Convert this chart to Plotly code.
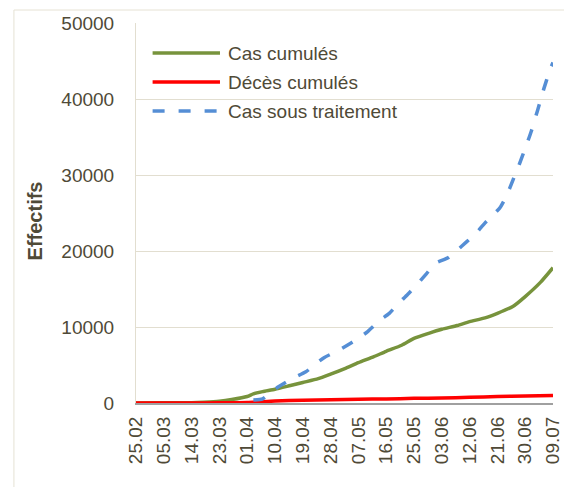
import pandas as pd
import plotly.graph_objects as go

START = "2020-02-25"

# Cas cumulés (day offset from 25.02, value)
cas_days = [0, 9, 18, 22, 27, 31, 36, 38, 41, 45, 50, 54, 59, 63, 68, 72, 77, 81,
            86, 90, 95, 99, 104, 108, 113, 117, 122, 126, 131, 135]
cas_vals = [1, 17, 40, 100, 230, 450, 850, 1200, 1500, 1800, 2300, 2700, 3200, 3800,
            4600, 5300, 6100, 6800, 7600, 8500, 9200, 9700, 10200, 10700, 11200,
            11800, 12700, 14000, 15900, 17800]

# Décès cumulés
dec_days = [0, 9, 18, 27, 36, 45, 54, 63, 72, 81, 90, 99, 108, 117, 126, 135]
dec_vals = [0, 0, 4, 17, 58, 256, 375, 437, 502, 542, 609, 673, 741, 857, 912, 1000]

# Cas sous traitement
trt_days = [38, 41, 44, 46, 48, 51, 55, 58, 61, 65, 68, 72, 75, 79, 82, 85, 88, 91,
            94, 97, 101, 104, 107, 110, 113, 116, 118, 120, 122, 124, 126, 128, 130,
            132, 134, 135]
trt_vals = [400, 550, 1500, 2100, 2600, 3300, 4100, 5100, 6000, 6800, 7500, 8500,
            9400, 10900, 11800, 13100, 14300, 15600, 17000, 18400, 19100, 20100,
            21200, 22300, 23700, 24900, 25800, 27300, 29300, 31300, 33500, 35800,
            38500, 41300, 43800, 44800]

legend_names = ["Cas cumulés", "Décès cumulés", "Cas sous traitement"]
y_ticks = [0, 10000, 20000, 30000, 40000, 50000]
x_tick_days = list(range(0, 136, 9))

start = pd.Timestamp(START)
def to_dates(days):
    return [start + pd.Timedelta(days=d) for d in days]

GREEN = "#77933C"
RED = "#FF0000"
BLUE = "#558ED5"
TXT = "#4f4a37"
GRID = "#e2ded0"
FONT = "Liberation Sans"

fig = go.Figure()
fig.add_trace(go.Scatter(x=to_dates(cas_days), y=cas_vals, mode="lines",
                         line=dict(color=GREEN, width=3.5, shape="spline", smoothing=0.6),
                         name=legend_names[0], showlegend=False))
fig.add_trace(go.Scatter(x=to_dates(dec_days), y=dec_vals, mode="lines",
                         line=dict(color=RED, width=3.5, shape="spline", smoothing=0.6),
                         name=legend_names[1], showlegend=False))
fig.add_trace(go.Scatter(x=to_dates(trt_days), y=trt_vals, mode="lines",
                         line=dict(color=BLUE, width=3.5, dash="12px,14px", shape="spline", smoothing=0.6),
                         name=legend_names[2], showlegend=False))

# page geometry (page has an 8px body margin)
OFF = 8
W, H = 572 - 2 * OFF, 495 - 2 * OFF
L, R, B, T = 136, 563, 403, 23  # plot area in page pixels
def px(x):
    return (x - L) / (R - L)
def py(y):
    return (B - y) / (B - T)

colors = [GREEN, RED, BLUE]
dashes = ["solid", "solid", "12px,14px"]
rows = [53, 82, 111]
for name, c, d, yy in zip(legend_names, colors, dashes, rows):
    fig.add_shape(type="line", xref="paper", yref="paper",
                  x0=px(153), x1=px(222), y0=py(yy), y1=py(yy),
                  line=dict(color=c, width=3.5, dash=d))
    fig.add_annotation(xref="paper", yref="paper", x=px(228), y=py(yy),
                       xanchor="left", yanchor="middle", text=name, showarrow=False,
                       font=dict(family=FONT, size=19, color=TXT))

# outer frame
fig.add_shape(type="line", xref="paper", yref="paper",
              x0=px(11), x1=px(11), y0=py(10), y1=py(500),
              line=dict(color="#e6e2d4", width=1))
fig.add_shape(type="line", xref="paper", yref="paper",
              x0=px(11), x1=px(580), y0=py(10), y1=py(10),
              line=dict(color="#e6e2d4", width=1))

fig.add_annotation(xref="paper", yref="paper", x=px(33), y=py(221),
                   xanchor="center", yanchor="middle",
                   text="<b>Effectifs</b>", textangle=-90, showarrow=False,
                   font=dict(family=FONT, size=20, color=TXT))

tick_dates = to_dates(x_tick_days)
fig.update_layout(
    width=W, height=H,
    margin=dict(l=L - OFF, r=W - (R - OFF), t=T - OFF, b=H - (B - OFF)),
    paper_bgcolor="white", plot_bgcolor="white",
    font=dict(family=FONT, size=19, color=TXT),
    xaxis=dict(type="date", range=[start, start + pd.Timedelta(days=135)],
               tickmode="array", tickvals=tick_dates,
               ticktext=[d.strftime("%d.%m") for d in tick_dates],
               tickangle=-90, showgrid=False, showline=True, linecolor="#a0a0a0",
               linewidth=2, ticks="", ticklabelstandoff=4, ticklabeloverflow="allow",
               tickfont=dict(family=FONT, size=19, color=TXT), zeroline=False),
    yaxis=dict(range=[0, 50000], tickvals=y_ticks, ticktext=[str(v) for v in y_ticks],
               showgrid=True, gridcolor=GRID, gridwidth=1, showline=True,
               linecolor=GRID, linewidth=1, ticks="", ticklabelstandoff=17,
               tickfont=dict(family=FONT, size=19, color=TXT), zeroline=False),
)

fig.write_html("out.html")
